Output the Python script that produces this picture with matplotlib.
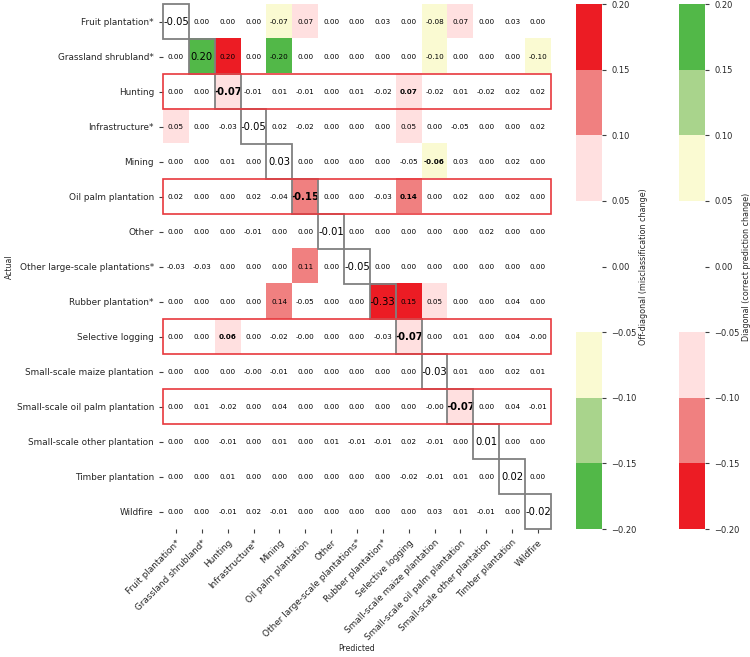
import matplotlib
matplotlib.use("Agg")
import matplotlib.pyplot as plt
from matplotlib.colors import ListedColormap, BoundaryNorm
from matplotlib.cm import ScalarMappable
from matplotlib.patches import Rectangle
import numpy as np

# Classes (rows = actual, cols = predicted)
classes = [
    "Fruit plantation*", "Grassland shrubland*", "Hunting", "Infrastructure*",
    "Mining", "Oil palm plantation", "Other", "Other large-scale plantations*",
    "Rubber plantation*", "Selective logging", "Small-scale maize plantation",
    "Small-scale oil palm plantation", "Small-scale other plantation",
    "Timber plantation", "Wildfire",
]

# change in confusion matrix (-0.001 -> shown as -0.00)
values = np.array([
    [-0.05, 0.00, 0.00, 0.00, -0.07, 0.07, 0.00, 0.00, 0.03, 0.00, -0.08, 0.07, 0.00, 0.03, 0.00],
    [0.00, 0.20, 0.20, 0.00, -0.20, 0.00, 0.00, 0.00, 0.00, 0.00, -0.10, 0.00, 0.00, 0.00, -0.10],
    [0.00, 0.00, -0.07, -0.01, 0.01, -0.01, 0.00, 0.01, -0.02, 0.07, -0.02, 0.01, -0.02, 0.02, 0.02],
    [0.05, 0.00, -0.03, -0.05, 0.02, -0.02, 0.00, 0.00, 0.00, 0.05, 0.00, -0.05, 0.00, 0.00, 0.02],
    [0.00, 0.00, 0.01, 0.00, 0.03, 0.00, 0.00, 0.00, 0.00, -0.05, -0.06, 0.03, 0.00, 0.02, 0.00],
    [0.02, 0.00, 0.00, 0.02, -0.04, -0.15, 0.00, 0.00, -0.03, 0.14, 0.00, 0.02, 0.00, 0.02, 0.00],
    [0.00, 0.00, 0.00, -0.01, 0.00, 0.00, -0.01, 0.00, 0.00, 0.00, 0.00, 0.00, 0.02, 0.00, 0.00],
    [-0.03, -0.03, 0.00, 0.00, 0.00, 0.11, 0.00, -0.05, 0.00, 0.00, 0.00, 0.00, 0.00, 0.00, 0.00],
    [0.00, 0.00, 0.00, 0.00, 0.14, -0.05, 0.00, 0.00, -0.33, 0.15, 0.05, 0.00, 0.00, 0.04, 0.00],
    [0.00, 0.00, 0.06, 0.00, -0.02, -0.001, 0.00, 0.00, -0.03, -0.07, 0.00, 0.01, 0.00, 0.04, -0.001],
    [0.00, 0.00, 0.00, -0.001, -0.01, 0.00, 0.00, 0.00, 0.00, 0.00, -0.03, 0.01, 0.00, 0.02, 0.01],
    [0.00, 0.01, -0.02, 0.00, 0.04, 0.00, 0.00, 0.00, 0.00, 0.00, -0.001, -0.07, 0.00, 0.04, -0.01],
    [0.00, 0.00, -0.01, 0.00, 0.01, 0.00, 0.01, -0.01, -0.01, 0.02, -0.01, 0.00, 0.01, 0.00, 0.00],
    [0.00, 0.00, 0.01, 0.00, 0.00, 0.00, 0.00, 0.00, 0.00, -0.02, -0.01, 0.01, 0.00, 0.02, 0.00],
    [0.00, 0.00, -0.01, 0.02, -0.01, 0.00, 0.00, 0.00, 0.00, 0.00, 0.03, 0.01, -0.01, 0.00, -0.02],
])

highlight_rows = ["Hunting", "Oil palm plantation", "Selective logging",
                  "Small-scale oil palm plantation"]
bold_cells = [(2, 2), (2, 9), (4, 10), (5, 5), (5, 9), (9, 2), (9, 9), (11, 11)]

bounds = [-0.2, -0.15, -0.1, -0.05, 0.05, 0.1, 0.15, 0.2]
off_colors = ["#52b848", "#a9d48c", "#fafad2", "#ffffff", "#ffe0e0", "#f08080", "#ec1c24"]
diag_colors = off_colors[::-1]

cmap_off = ListedColormap(off_colors)
cmap_diag = ListedColormap(diag_colors)
norm = BoundaryNorm(bounds, len(off_colors))

n = len(classes)
eye = np.eye(n, dtype=bool)
off_vals = np.ma.masked_where(eye, values)
diag_vals = np.ma.masked_where(~eye, values)

fig = plt.figure(figsize=(7.5, 6.57), dpi=100)
ax = fig.add_axes([0.2173, 0.1948, 0.5173, 0.7991])
cax1 = fig.add_axes([0.768, 0.1948, 0.0347, 0.7991])
cax2 = fig.add_axes([0.9053, 0.1948, 0.0347, 0.7991])

ext = (-0.5, n - 0.5, n - 0.5, -0.5)
ax.imshow(off_vals, cmap=cmap_off, norm=norm, aspect="auto", extent=ext, interpolation="nearest")
ax.imshow(diag_vals, cmap=cmap_diag, norm=norm, aspect="auto", extent=ext, interpolation="nearest")

txt_col = "#262626"
for i in range(n):
    for j in range(n):
        v = values[i, j]
        w = "bold" if (i, j) in bold_cells else "normal"
        fs = 7.2 if i == j else 5.2
        ax.text(j, i, f"{v:.2f}", ha="center", va="center", fontsize=fs,
                fontweight=w, color="black")

# diagonal boxes
for i in range(n):
    ax.add_patch(Rectangle((i - 0.5, i - 0.5), 1, 1, fill=False,
                           edgecolor="#808080", lw=1.3, clip_on=False, zorder=3))

# highlighted rows
for name in highlight_rows:
    r = classes.index(name)
    ax.add_patch(Rectangle((-0.5, r - 0.5), n, 1, fill=False,
                           edgecolor="#e8383d", lw=1.2, clip_on=False, zorder=4))

ax.set_xlim(-0.5, n - 0.5)
ax.set_ylim(n - 0.5, -0.5)
ax.set_xticks(range(n))
ax.set_yticks(range(n))
ax.set_xticklabels(classes, rotation=45, ha="right", rotation_mode="anchor")
ax.set_yticklabels(classes)
ax.tick_params(labelsize=6.4, length=3, width=0.8, color="#404040", labelcolor=txt_col)
for s in ax.spines.values():
    s.set_visible(False)
ax.set_xlabel("Predicted", fontsize=5.6, color=txt_col, labelpad=2)
ax.set_ylabel("Actual", fontsize=5.6, color=txt_col, labelpad=2)

ticks = np.round(np.linspace(-0.2, 0.2, 9), 2)
for cax, cmap, lab in [(cax1, cmap_off, "Off-diagonal (misclassification change)"),
                       (cax2, cmap_diag, "Diagonal (correct prediction change)")]:
    cb = fig.colorbar(ScalarMappable(norm=norm, cmap=cmap), cax=cax,
                      spacing="proportional", ticks=ticks)
    cb.outline.set_visible(False)
    cb.ax.tick_params(labelsize=6.0, length=3, width=0.8, color="#404040", labelcolor=txt_col)
    cb.set_label(lab, fontsize=5.8, color=txt_col, labelpad=2)

fig.savefig("out.png", dpi=100)
